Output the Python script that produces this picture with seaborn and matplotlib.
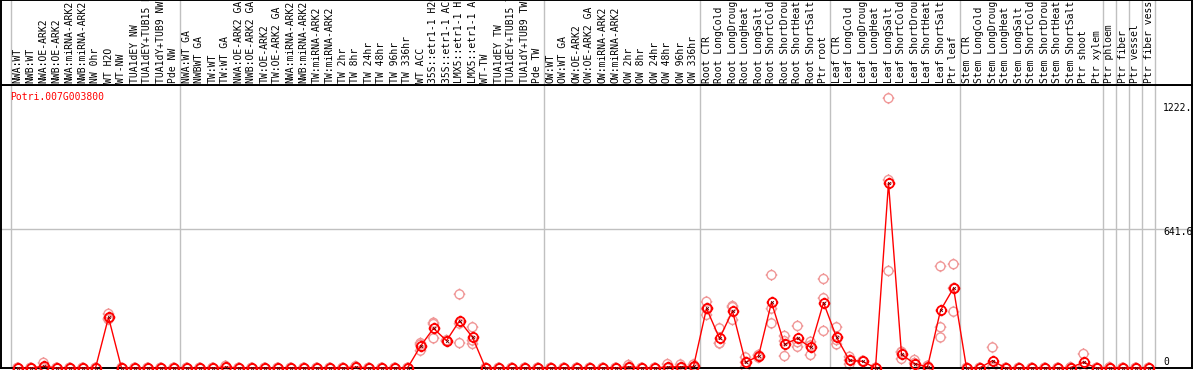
import numpy as np
import pandas as pd
import matplotlib
matplotlib.use("Agg")
import matplotlib.pyplot as plt
import matplotlib.transforms as mtransforms
from matplotlib.path import Path
import seaborn as sns

# sample labels, one per column
group_nw = ["NWA:WT", "NWB:WT", "NWA:OE-ARK2", "NWB:OE-ARK2", "NWA:miRNA-ARK2", "NWB:miRNA-ARK2",
            "NW 0hr", "WT H2O", "WT-NW", "TUA1dEY NW", "TUA1dEY+TUB15 NW", "TUA1dY+TUB9 NW", "Pde NW"]
group_tw = ["NWA:WT GA", "NWBWT GA", "TW:WT", "TW:WT GA", "NWA:OE-ARK2 GA", "NWB:OE-ARK2 GA",
            "TW:OE-ARK2", "TW:OE-ARK2 GA", "NWA:miRNA-ARK2", "NWB:miRNA-ARK2", "TW:miRNA-ARK2",
            "TW:miRNA-ARK2", "TW 2hr", "TW 8hr", "TW 24hr", "TW 48hr", "TW 96hr", "TW 336hr", "WT ACC",
            "35S::etr1-1 H2O", "35S::etr1-1 ACC", "LMX5::etr1-1 H2O", "LMX5::etr1-1 ACC", "WT-TW",
            "TUA1dEY TW", "TUA1dEY+TUB15 TW", "TUA1dY+TUB9 TW", "Pde TW"]
group_ow = ["OW:WT", "OW:WT GA", "OW:OE-ARK2", "OW:OE-ARK2 GA", "OW:miRNA-ARK2", "OW:miRNA-ARK2",
            "OW 2hr", "OW 8hr", "OW 24hr", "OW 48hr", "OW 96hr", "OW 336hr"]
group_root = ["Root CTR", "Root LongCold", "Root LongDrought", "Root LongHeat", "Root LongSalt",
              "Root ShortCold", "Root ShortDrought", "Root ShortHeat", "Root ShortSalt", "Ptr root"]
group_leaf = ["Leaf CTR", "Leaf LongCold", "Leaf LongDrought", "Leaf LongHeat", "Leaf LongSalt",
              "Leaf ShortCold", "Leaf ShortDrought", "Leaf ShortHeat", "Leaf ShortSalt", "Ptr leaf"]
group_stem = ["Stem CTR", "Stem LongCold", "Stem LongDrought", "Stem LongHeat", "Stem LongSalt",
              "Stem ShortCold", "Stem ShortDrought", "Stem ShortHeat", "Stem ShortSalt", "Ptr shoot", "Ptr xylem"]
group_ptr = ["Ptr phloem", "Ptr fiber", "Ptr vessel", "Ptr fiber vessel"]
groups = [group_nw, group_tw, group_ow, group_root, group_leaf, group_stem,
          group_ptr[:1], group_ptr[1:2], group_ptr[2:3], group_ptr[3:]]
labels = sum(groups, [])

# mean expression per sample
mean_vals = [0, 0, 8, 0, 0, 0, 0, 234, 0, 0, 0, 0, 0,
             0, 0, 0, 4, 0, 0, 0, 0, 0, 0, 0, 0, 0, 4, 0, 0, 0, 0, 101, 183, 126, 218, 142, 0, 0, 0, 0, 0,
             0, 0, 0, 0, 0, 0, 6, 0, 0, 5, 6, 7,
             275, 137, 263, 26, 55, 303, 109, 137, 95, 302,
             142, 35, 31, 0, 854, 63, 20, 5, 266, 369,
             0, 0, 34, 0, 0, 0, 0, 0, 2, 26, 0,
             2, 0, 0, 0]
# replicate values
rep1 = [0, 0, 24, 0, 0, 0, 0, 250, 0, 0, 0, 0, 0,
        0, 0, 0, 10, 0, 0, 0, 0, 0, 0, 0, 0, 0, 8, 0, 0, 0, 0, 80, 209, 128, 340, 188, 0, 0, 0, 0, 0,
        0, 0, 0, 0, 0, 0, 14, 0, 0, 18, 16, 16,
        306, 183, 286, 49, 58, 429, 148, 194, 121, 411,
        188, 52, 31, 0, 1245, 75, 37, 10, 469, 479,
        0, 0, 95, 0, 0, 0, 0, 0, 2, 65, 0,
        2, 0, 0, 0]
rep2 = [0, 0, 0, 0, 0, 0, 0, 228, 0, 0, 0, 0, 0,
        0, 0, 0, 3, 0, 0, 0, 0, 0, 0, 0, 0, 0, 2, 0, 0, 0, 0, 108, 137, 124, 115, 111, 0, 0, 0, 0, 0,
        0, 0, 0, 0, 0, 0, 3, 0, 0, 0, 2, 3,
        245, 114, 222, 3, 60, 206, 55, 98, 60, 171,
        109, 17, 30, 0, 448, 42, 0, 0, 188, 260,
        0, 0, 6, 0, 0, 0, 0, 0, 2, 7, 0,
        2, 0, 0, 0]
rep3 = [0, 0, 0, 0, 0, 0, 0, 224, 0, 0, 0, 0, 0,
        0, 0, 0, 2, 0, 0, 0, 0, 0, 0, 0, 0, 0, 2, 0, 0, 0, 0, 115, 203, 126, 205, 127, 0, 0, 0, 0, 0,
        0, 0, 0, 0, 0, 0, 1, 0, 0, 0, 0, 2,
        274, 114, 281, 26, 48, 274, 124, 119, 104, 322,
        129, 36, 32, 0, 868, 72, 23, 5, 141, 368,
        0, 0, 0, 0, 0, 0, 0, 0, 2, 6, 0,
        2, 0, 0, 0]

gene = "Potri.007G003800"
ytick_vals = [0, 641.6, 1222]
ytick_text = ["0", "641.6", "1222."]

pos = np.arange(len(labels))
df_mean = pd.DataFrame({"pos": pos, "val": mean_vals})
df_rep = pd.DataFrame({"pos": np.tile(pos, 3), "val": rep1 + rep2 + rep3})

plt.rcParams["font.family"] = ["DejaVu Sans Mono"]

# circle marker (polygon) with four little ticks
ang = np.linspace(0, 2 * np.pi, 33)
verts = list(zip(np.cos(ang), np.sin(ang)))
codes = [Path.MOVETO] + [Path.LINETO] * 31 + [Path.CLOSEPOLY]
for dx, dy in [(0, 1), (0, -1), (1, 0), (-1, 0)]:
    verts += [(dx, dy), (dx * 1.3, dy * 1.3)]
    codes += [Path.MOVETO, Path.LINETO]
sun = Path(verts, codes)

W, H = 1194, 370
fig = plt.figure(figsize=(W / 100, H / 100), dpi=100)
ax = fig.add_axes([1 / W, 2 / H, 1191 / W, 283 / H])
hax = fig.add_axes([1 / W, 285 / H, 1191 / W, 85 / H])

xlo, xhi = (1 - 17.5) / 13, (1192 - 17.5) / 13
ymax = 283 * 4.616
for a in (ax, hax):
    a.set_xlim(xlo, xhi)
    a.set_xticks([])
    a.set_yticks([])
    for s in a.spines.values():
        s.set_color("black")
        s.set_linewidth(1.4)
ax.set_ylim(0, ymax)
hax.set_ylim(0, 1)

# group separators
edges = np.cumsum([0] + [len(g) for g in groups]) - 0.5
for e in edges:
    ax.axvline(e, color="#c0c0c0", lw=1.0, zorder=0)
    hax.axvline(e, color="#c0c0c0", lw=1.0, zorder=0)
ax.axhline(ytick_vals[1], color="#c0c0c0", lw=1.0, zorder=0)

# replicates
sns.scatterplot(data=df_rep, x="pos", y="val", ax=ax, marker=sun, s=70, color="#f09898",
                facecolor="none", edgecolor="#f09898", linewidth=1.0, clip_on=False, zorder=2, legend=False)
# mean line
sns.lineplot(data=df_mean, x="pos", y="val", ax=ax, color="red", lw=1.0, estimator=None,
             marker=sun, markersize=8.4, markerfacecolor="none", markeredgecolor="red",
             markeredgewidth=1.3, clip_on=False, zorder=3)
sns.scatterplot(data=df_mean, x="pos", y="val", ax=ax, marker="x", s=4, color="#600000",
                linewidth=0.6, clip_on=False, zorder=4, legend=False)
ax.set_xlabel("")
ax.set_ylabel("")

ax.text(9 / 1191, (368 - 97) / 283, gene, transform=ax.transAxes, color="red",
        fontsize=7, ha="left", va="center")
blend = mtransforms.blended_transform_factory(ax.transAxes, ax.transData)
label_offsets = [-6, 2.7, 5]
for v, t, off in zip(ytick_vals, ytick_text, label_offsets):
    ax.text((1163 - 1) / 1191, v - off * 4.616, t, transform=blend, color="black", fontsize=7,
            ha="left", va="center", clip_on=False)

for i, lab in enumerate(labels):
    hax.text(i, 2 / 85, lab, rotation=90, ha="center", va="bottom", fontsize=7, color="black")

fig.savefig("out.png", dpi=100)
